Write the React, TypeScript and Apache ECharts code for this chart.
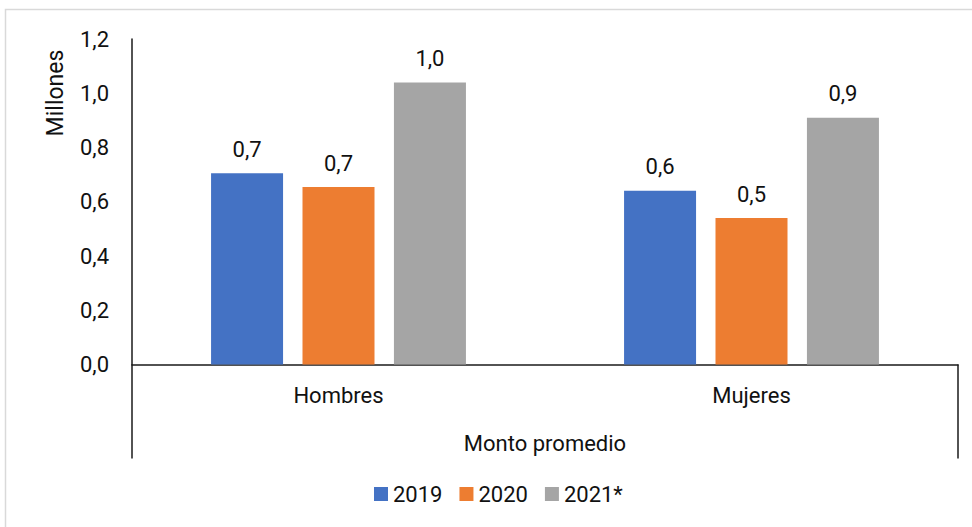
import React, { useEffect, useRef } from "react";
import * as echarts from "echarts";

const categories = ["Hombres", "Mujeres"];
const groupLabel = ["Monto promedio"];
const seriesNames = ["2019", "2020", "2021*"];
const values2019 = [0.705, 0.641];
const values2020 = [0.654, 0.54];
const values2021 = [1.04, 0.91];
const colors = ["#4472C4", "#ED7D31", "#A5A5A5"];
const yAxisTitle = "Millones";

const FONT = "Roboto, 'Noto Sans', sans-serif";
const FS = 22;
const TEXT = "#111111";
const AXIS = "#1a1a1a";
const fmt = (v: number) => v.toFixed(1).replace(".", ",");

export default function App() {
  const ref = useRef<HTMLDivElement>(null);
  useEffect(() => {
    if (!ref.current) return;
    const chart = echarts.init(ref.current, undefined, { renderer: "svg" });
    const data = [values2019, values2020, values2021];
    chart.setOption({
      animation: false,
      backgroundColor: "#ffffff",
      textStyle: { fontFamily: FONT },
      grid: { left: 132, right: 14, top: 39, bottom: 162.5, containLabel: false },
      legend: {
        left: 374,
        top: 483,
        padding: 0,
        itemWidth: 14,
        itemHeight: 14,
        itemGap: 17,
        icon: "rect",
        textStyle: { fontFamily: FONT, fontSize: FS, color: TEXT, lineHeight: 22 },
        data: seriesNames,
      },
      xAxis: [
        {
          type: "category",
          data: categories,
          position: "bottom",
          axisLine: { show: true, lineStyle: { color: AXIS, width: 1.5 } },
          axisTick: { show: false },
          axisLabel: { fontFamily: FONT, fontSize: FS, color: TEXT, margin: 20 },
        },
        {
          type: "category",
          data: groupLabel,
          position: "bottom",
          axisLine: { show: false },
          axisTick: {
            show: true,
            inside: false,
            length: 94,
            alignWithLabel: false,
            lineStyle: { color: AXIS, width: 1.5 },
          },
          axisLabel: { fontFamily: FONT, fontSize: FS, color: TEXT, margin: 68 },
        },
      ],
      yAxis: {
        type: "value",
        min: 0,
        max: 1.2,
        interval: 0.2,
        axisLine: { show: true, lineStyle: { color: AXIS, width: 1.5 } },
        axisTick: { show: false },
        splitLine: { show: false },
        axisLabel: {
          fontFamily: FONT,
          fontSize: FS,
          color: TEXT,
          margin: 23,
          formatter: (v: number) => fmt(v),
        },
      },
      series: seriesNames.map((name, i) => ({
        name,
        type: "bar",
        xAxisIndex: 0,
        data: data[i],
        barWidth: 72,
        barGap: "27%",
        itemStyle: { color: colors[i] },
        label: {
          show: true,
          position: "top",
          distance: 13,
          fontFamily: FONT,
          fontSize: FS,
          color: TEXT,
          formatter: (p: any) => fmt(p.value),
        },
      })),
      graphic: [
        {
          type: "rect",
          z: -10,
          silent: true,
          shape: { x: 5.5, y: 9.5, width: 1000, height: 600 },
          style: { fill: "none", stroke: "#d9d9d9", lineWidth: 1.5 },
        },
        {
          type: "text",
          x: 55,
          y: 93,
          rotation: Math.PI / 2,
          style: {
            text: yAxisTitle,
            font: `23px ${FONT}`,
            fill: TEXT,
            align: "center",
            verticalAlign: "middle",
          },
        },
      ],
    });
    return () => chart.dispose();
  }, []);
  return (
    <div
      ref={ref}
      style={{ position: "absolute", left: 0, top: 0, width: 972, height: 527 }}
    />
  );
}
